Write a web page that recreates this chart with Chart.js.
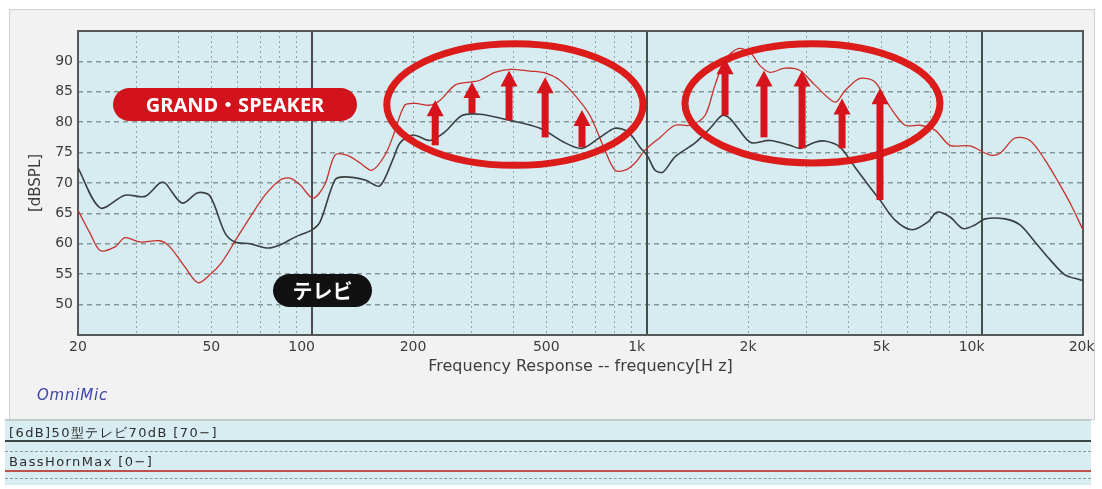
<!DOCTYPE html>
<html>
<head>
<meta charset="UTF-8">
<title>周波数特性 GRAND・SPEAKER / テレビ</title>
<script src="https://cdn.jsdelivr.net/npm/chart.js"></script>
<style>
  body { margin: 0; background: #fff; font-family: 'DejaVu Sans', sans-serif; }
  #wrap { position: relative; width: 1102px; height: 489px; overflow: hidden; }
  #frame { position: absolute; left: 9px; top: 9px; width: 1086px; height: 411px; background: #f2f2f2; border: 1px solid #cfcfcf; box-sizing: border-box; }
  canvas { position: absolute; left: 0; top: 0; }
  .pill { position: absolute; color: #fff; font-weight: bold; border-radius: 17px; text-align: center; height: 33px; line-height: 33px; font-size: 20px; }
  #grand { left: 113px; top: 88px; width: 244px; background: #d3131b; font-family: 'Noto Sans', 'Noto Sans CJK JP', sans-serif; }
  #tv { left: 273px; top: 274px; width: 99px; background: #111; font-family: 'Noto Sans CJK JP', sans-serif; }
  #omni { position: absolute; left: 37px; top: 386px; font-style: italic; color: #3d44a8; font-size: 15px; letter-spacing: 0.8px; }
  #legend { position: absolute; left: 5px; top: 419px; width: 1086px; height: 64px; background: #d7edf1; border-top: 2px solid #c4c9ca; }
  #legend div { position: absolute; left: 0; width: 100%; }
  .ltxt { font-size: 13px; color: #2e2e2e; padding-left: 4px; letter-spacing: 1.4px; line-height: 15px; }
</style>
</head>
<body>
<div id="wrap">
  <div id="frame"></div>
  <canvas id="fr" width="1102" height="489"></canvas>
  <div class="pill" id="grand">GRAND・SPEAKER</div>
  <div class="pill" id="tv">テレビ</div>
  <div id="omni">OmniMic</div>
  <div id="legend">
    <div class="ltxt" style="top:4px">[6dB]50型テレビ70dB [70−]</div>
    <div style="top:19px; border-top:2px solid #3a4644"></div>
    <div style="top:30px; border-top:1px dashed #8e9a9c"></div>
    <div class="ltxt" style="top:33px">BassHornMax [0−]</div>
    <div style="top:49px; border-top:2px solid #c0504d"></div>
    <div style="top:57px; border-top:1px dashed #8e9a9c"></div>
  </div>
</div>
<script>
// テレビ (black)
const tvFreq = [20, 23.3, 27.6, 31.7, 35.1, 36.4, 40.9, 45.6, 49.5, 54.9, 58.8, 65.3, 73.8, 80.2, 88.9, 99.9, 105.6, 117, 125, 144, 159, 174, 183, 200, 225, 249, 280, 317, 390, 479, 569, 639, 723, 802, 877, 952, 1006, 1056, 1115, 1211, 1390, 1541, 1673, 1768, 1959, 2056, 2326, 2670, 2860, 3170, 3396, 3764, 4172, 4626, 4954, 5494, 6176, 6892, 7332, 8018, 8768, 9522, 10200, 11700, 12970, 14380, 15940, 17670, 19590, 20000];
const tvDb = [72.5, 65.9, 68.0, 67.8, 70.0, 70.0, 66.7, 68.4, 67.9, 61.8, 60.3, 60.0, 59.3, 59.8, 61.1, 62.3, 63.6, 70.5, 71.0, 70.5, 69.5, 73.8, 76.6, 77.9, 77.0, 78.4, 81.1, 81.3, 80.3, 79.0, 76.6, 75.7, 77.5, 79.0, 78.4, 75.9, 74.3, 72.1, 71.8, 74.3, 76.6, 79.0, 81.1, 80.6, 77.5, 76.6, 77.0, 76.2, 75.7, 76.7, 76.9, 75.9, 72.6, 69.3, 67.2, 63.9, 62.3, 63.6, 65.2, 64.4, 62.5, 63.1, 64.1, 64.1, 63.1, 60.3, 57.4, 54.9, 54.1, 54.0];

// GRAND・SPEAKER (red)
const gsFreq = [20, 21.7, 23.3, 25.8, 27.6, 30.6, 35.1, 37.6, 41.7, 45.6, 49.5, 53.8, 59.7, 65.3, 72.3, 80.2, 85.9, 92.0, 100.6, 109, 117, 127, 139, 151, 165, 176, 189, 203, 225, 241, 267, 296, 317, 351, 390, 447, 495, 549, 609, 675, 748, 802, 859, 920, 985, 1093, 1211, 1343, 1488, 1594, 1707, 1867, 2028, 2172, 2326, 2579, 2860, 3170, 3638, 3898, 4318, 4787, 5308, 5884, 6524, 7230, 8018, 9198, 10556, 11308, 12530, 13896, 15400, 17070, 18300, 20000];
const gsDb = [65.5, 61.8, 58.9, 59.5, 61.0, 60.3, 60.5, 59.5, 56.2, 53.6, 54.9, 57.0, 61.0, 64.4, 68.0, 70.5, 70.8, 69.7, 67.5, 69.7, 74.6, 74.6, 73.3, 72.1, 74.6, 78.3, 82.8, 83.1, 82.8, 83.6, 86.1, 86.6, 86.9, 88.2, 88.7, 88.4, 88.1, 86.9, 84.4, 81.1, 75.4, 72.1, 72.1, 73.3, 75.4, 77.5, 79.5, 79.5, 81.1, 86.1, 90.2, 92.1, 91.5, 89.3, 88.2, 88.9, 88.5, 86.1, 83.3, 85.2, 87.2, 86.6, 82.5, 79.5, 79.5, 78.7, 76.2, 76.1, 74.6, 74.9, 77.4, 77.0, 73.8, 69.7, 66.7, 62.3];

// arrows: frequency, from (テレビ) dB, to (GRAND・SPEAKER) dB
const arrowFreq = [233, 300, 387, 496, 639, 1708, 2232, 2900, 3818, 4954];
const arrowFrom = [76.2, 81.5, 80.3, 77.5, 75.9, 81.1, 77.5, 75.7, 75.7, 67.2];
const arrowTo = [83.6, 86.6, 88.5, 87.4, 82.0, 90.5, 88.5, 88.5, 83.9, 85.6];

// circled ranges
const zoneFreqMin = [167, 1297];
const zoneFreqMax = [972, 7484];
const zoneDbMin = [72.9, 73.3];
const zoneDbMax = [92.9, 92.9];

const xGridTicks = [20, 30, 40, 50, 60, 70, 80, 90, 100, 200, 300, 400, 500, 600, 700, 800, 900, 1000, 2000, 3000, 4000, 5000, 6000, 7000, 8000, 9000, 10000, 20000];
// decade labels sit a little left of their line in the original
const xLabels = {20: '20', 50: '50', 100: '100\u2002\u2002\u2002', 200: '200', 500: '500', 1000: '1k\u2002\u2002\u2002', 2000: '2k', 5000: '5k', 10000: '10k\u2002\u2002\u2002', 20000: '20k\u2009'};
const decadeLines = [100, 1000, 10000];
const yTicks = [50, 55, 60, 65, 70, 75, 80, 85, 90];

const axisFont = "'DejaVu Sans', sans-serif";

const frPlugin = {
  id: 'frDecor',
  beforeDraw(chart) {
    const {ctx, chartArea: a} = chart;
    ctx.save();
    ctx.fillStyle = '#d6ecf0';
    ctx.fillRect(a.left, a.top, a.right - a.left, a.bottom - a.top);
    ctx.restore();
  },
  beforeDatasetsDraw(chart) {
    const {ctx, chartArea: a, scales: {x}} = chart;
    ctx.save();
    ctx.strokeStyle = '#474c4d';
    ctx.lineWidth = 2;
    decadeLines.forEach(v => {
      const px = Math.round(x.getPixelForValue(v));
      ctx.beginPath();
      ctx.moveTo(px, a.top);
      ctx.lineTo(px, a.bottom);
      ctx.stroke();
    });
    ctx.strokeStyle = '#55595a';
    ctx.strokeRect(a.left, a.top, a.right - a.left, a.bottom - a.top);
    ctx.restore();
  },
  afterDatasetsDraw(chart) {
    const {ctx, scales: {x, y}} = chart;
    ctx.save();
    // ellipses
    ctx.strokeStyle = '#dc1b1b';
    ctx.lineWidth = 7;
    zoneFreqMin.forEach((f, i) => {
      const x0 = x.getPixelForValue(f), x1 = x.getPixelForValue(zoneFreqMax[i]);
      const y0 = y.getPixelForValue(zoneDbMax[i]), y1 = y.getPixelForValue(zoneDbMin[i]);
      ctx.beginPath();
      ctx.ellipse((x0 + x1) / 2, (y0 + y1) / 2, (x1 - x0) / 2, (y1 - y0) / 2, 0, 0, Math.PI * 2);
      ctx.stroke();
    });
    // arrows
    ctx.fillStyle = '#d7141c';
    arrowFreq.forEach((f, i) => {
      const px = x.getPixelForValue(f);
      const yb = y.getPixelForValue(arrowFrom[i]);
      const yt = y.getPixelForValue(arrowTo[i]);
      ctx.fillRect(px - 3.5, yt + 14, 7, yb - yt - 14);
      ctx.beginPath();
      ctx.moveTo(px, yt);
      ctx.lineTo(px - 8.5, yt + 16);
      ctx.lineTo(px + 8.5, yt + 16);
      ctx.closePath();
      ctx.fill();
    });
    ctx.restore();
  }
};

new Chart(document.getElementById('fr'), {
  type: 'line',
  data: {
    datasets: [
      {
        label: 'テレビ',
        data: tvFreq.map((f, i) => ({x: f, y: tvDb[i]})),
        borderColor: '#3a3f40',
        borderWidth: 1.6,
        pointRadius: 0,
        tension: 0.3
      },
      {
        label: 'GRAND・SPEAKER',
        data: gsFreq.map((f, i) => ({x: f, y: gsDb[i]})),
        borderColor: '#c8302c',
        borderWidth: 1.3,
        pointRadius: 0,
        tension: 0.3
      }
    ]
  },
  options: {
    responsive: false,
    animation: false,
    devicePixelRatio: 1,
    layout: { padding: { left: 24, top: 31, right: 19, bottom: 110 } },
    plugins: { legend: { display: false }, tooltip: { enabled: false } },
    scales: {
      x: {
        type: 'logarithmic',
        min: 20,
        max: 20000,
        afterBuildTicks: s => { s.ticks = xGridTicks.map(v => ({value: v})); },
        afterFit: s => { s.height = 44; },
        ticks: {
          autoSkip: false,
          maxRotation: 0,
          padding: 4,
          color: '#3d3d3d',
          font: { family: axisFont, size: 14 },
          callback: v => xLabels[v] || ''
        },
        grid: {
          drawTicks: false,
          color: c => (c.tick && (decadeLines.includes(c.tick.value) || c.tick.value === 20 || c.tick.value === 20000)) ? 'rgba(0,0,0,0)' : '#8fa6aa',
          lineWidth: 1
        },
        border: { display: false, dash: [2, 3] },
        title: {
          display: true,
          text: 'Frequency Response -- frequency[H z]',
          color: '#3d3d3d',
          font: { family: axisFont, size: 16 },
          padding: { top: 0, bottom: 3 }
        }
      },
      y: {
        min: 45,
        max: 95,
        afterBuildTicks: s => { s.ticks = yTicks.map(v => ({value: v})); },
        afterFit: s => { s.width = 54; },
        ticks: {
          padding: 5,
          color: '#3d3d3d',
          font: { family: axisFont, size: 14 }
        },
        grid: { drawTicks: false, color: '#86979a', lineWidth: 1.5 },
        border: { display: false, dash: [5, 4] },
        title: {
          display: true,
          text: '[dBSPL]',
          color: '#3d3d3d',
          font: { family: axisFont, size: 15 },
          padding: { top: 3, bottom: 0 }
        }
      }
    }
  },
  plugins: [frPlugin]
});
</script>
</body>
</html>
